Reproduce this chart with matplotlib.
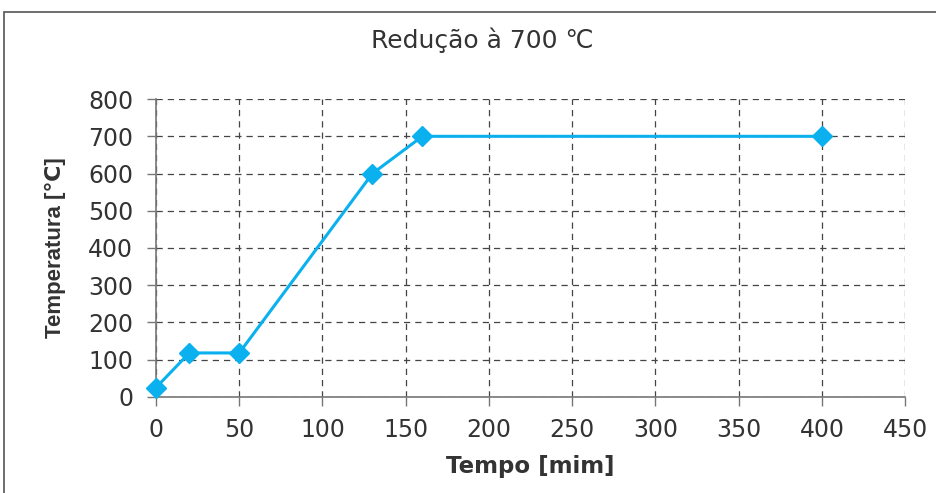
import matplotlib
matplotlib.use('Agg')
import matplotlib.pyplot as plt
from matplotlib.patches import Rectangle

# data
tempo = [0, 20, 50, 130, 160, 400]
temperatura = [25, 118, 118, 600, 700, 700]
xticks = [0, 50, 100, 150, 200, 250, 300, 350, 400, 450]
yticks = [0, 100, 200, 300, 400, 500, 600, 700, 800]

plt.rcParams['font.family'] = ['DejaVu Sans']
txt = '#333333'

fig = plt.figure(figsize=(9.36, 4.93), dpi=100)
ax = fig.add_axes([0.1667, 0.195, 0.8003, 0.604])

# outer chart border (like the spreadsheet chart area)
fig.patches.append(Rectangle((4/936, -0.1), 2.0, 1 - 12/493 + 0.1, transform=fig.transFigure,
                             fill=False, edgecolor='#555555', linewidth=1.2))

ax.plot(tempo, temperatura, '-', color='#0AB1EE', linewidth=2.2,
        marker='D', markersize=10, markerfacecolor='#0AB1EE', markeredgecolor='#0AB1EE',
        zorder=3, clip_on=False)

ax.set_xlim(0, 450)
ax.set_ylim(0, 800)
ax.set_xticks(xticks)
ax.set_yticks(yticks)
ax.grid(True, linestyle=(0, (5, 4)), color='#444444', linewidth=0.9)
ax.set_axisbelow(True)

for s in ['top', 'right']:
    ax.spines[s].set_visible(False)
for s in ['left', 'bottom']:
    ax.spines[s].set_color('#777777')
    ax.spines[s].set_linewidth(1.2)

ax.tick_params(axis='both', labelsize=17, colors='#777777', labelcolor=txt,
               length=6.5, width=1.0, direction='out')
ax.tick_params(axis='x', pad=9)
ax.tick_params(axis='y', pad=10)

ax.set_xlabel('Tempo [mim]', fontsize=16.5, fontweight='bold', labelpad=9, color=txt)
ax.set_ylabel('Temperatura [℃]', fontsize=16, fontweight='bold', labelpad=16, color=txt,
              family=['Liberation Sans', 'DejaVu Sans'])
fig.text(0.515, 0.918, 'Redução à 700 ℃', ha='center', va='center', fontsize=18, color=txt)

fig.savefig('out.png', dpi=100)
